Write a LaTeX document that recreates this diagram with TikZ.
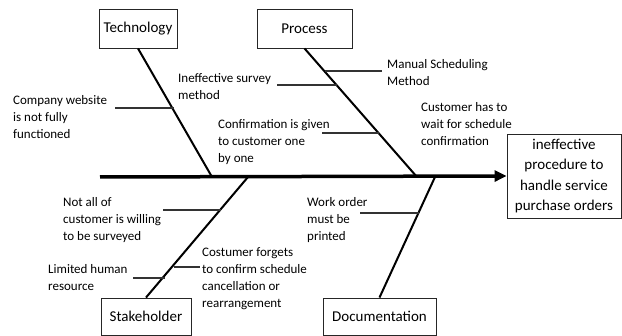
\documentclass[tikz,border=0pt]{standalone}
\usepackage{fontspec}
\setmainfont{Carlito}
\usetikzlibrary{arrows.meta}
\begin{document}
\begin{tikzpicture}[x=1pt,y=-1pt,
  catbox/.style={draw=black!85,line width=0.9pt,inner sep=0pt,font=\fontsize{15}{18}\selectfont},
  bone/.style={line width=2pt,black},
  spine/.style={line width=3.5pt,black,-{Triangle[length=12pt,width=11pt]}},
  rib/.style={line width=1.3pt,black!80},
  cause/.style={anchor=base west,align=left,inner sep=0pt,font=\fontsize{13}{17}\selectfont}]
\useasboundingbox (0,0) rectangle (622,336);
% category boxes
\node[catbox,minimum width=78pt,minimum height=39pt] (tech) at (138,28.5) {Technology};
\node[catbox,minimum width=95pt,minimum height=39pt] (proc) at (304.5,28.5) {Process};
\node[catbox,minimum width=90pt,minimum height=37pt] (stake) at (146,316.5) {Stakeholder};
\node[catbox,minimum width=113pt,minimum height=37pt] (doc) at (379.5,316.5) {Documentation};
\node[catbox,minimum width=114pt,minimum height=84pt,align=center,font=\fontsize{15}{20.5}\selectfont] (eff) at (564,176) {ineffective\\procedure to\\handle service\\purchase orders};
% spine
\coordinate (tail) at (100,177);
\draw[spine] (tail) -- (eff.west);
% bone ends on the spine
\coordinate (tj) at (212,177);
\coordinate (pj) at (417,177);
\coordinate (sj) at (248,177);
\coordinate (dj) at (435,177);
\draw[bone] (tech.south) -- (tj);
\draw[bone] (proc.south) -- (pj);
\draw[bone] (stake.north) -- (sj);
\draw[bone] (doc.north) -- (dj);
% causes (anchored at the baseline of their last line)
\node[cause] (c1) at (13,139) {Company website\\is not fully\\functioned};
\node[cause] (c2) at (178,100) {Ineffective survey\\method};
\node[cause] (c3) at (218,163) {Confirmation is given\\to customer one\\by one};
\node[cause] (c4) at (387,86) {Manual Scheduling\\Method};
\node[cause] (c5) at (421,146) {Customer has to\\wait for schedule\\confirmation};
\node[cause] (c6) at (63,241) {Not all of\\customer is willing\\to be surveyed};
\node[cause] (c7) at (48,291) {Limited human\\resource};
\node[cause] (c8) at (202,308) {Costumer forgets\\to confirm schedule\\cancellation or\\rearrangement};
\node[cause] (c9) at (307,241) {Work order\\must be\\printed};
% ribs
\coordinate (r1a) at (115,108); \coordinate (r1b) at (173.5,108);
\coordinate (r2a) at (277,85);  \coordinate (r2b) at (337,85);
\coordinate (r3a) at (322,133); \coordinate (r3b) at (379,133);
\coordinate (r4a) at (325,71);  \coordinate (r4b) at (382,71);
\coordinate (r6a) at (163,210); \coordinate (r6b) at (221,210);
\coordinate (r7a) at (133,278); \coordinate (r7b) at (165,278);
\coordinate (r8a) at (174,267); \coordinate (r8b) at (200,267);
\coordinate (r9a) at (360,213); \coordinate (r9b) at (419,213);
\draw[rib] (r1a) -- (r1b);
\draw[rib] (r2a) -- (r2b);
\draw[rib] (r3a) -- (r3b);
\draw[rib] (r4a) -- (r4b);
\draw[rib] (r6a) -- (r6b);
\draw[rib] (r7a) -- (r7b);
\draw[rib] (r8a) -- (r8b);
\draw[rib] (r9a) -- (r9b);
\end{tikzpicture}
\end{document}
